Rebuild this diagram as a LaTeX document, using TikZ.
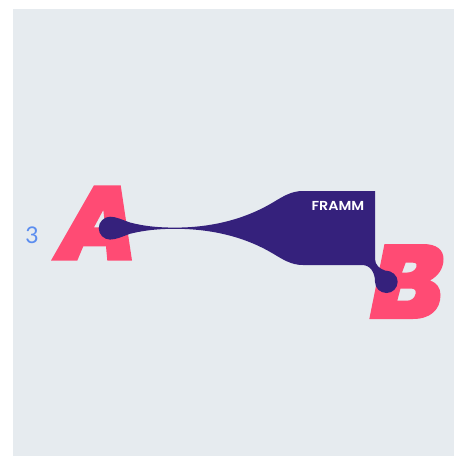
\documentclass[tikz,border=0pt]{standalone}
\usepackage{fontspec}
\setmainfont{Poppins}
\newfontfamily\thinfont{Lato}
\newfontfamily\wideb[FakeStretch=1.1]{Poppins SemiBold}
\definecolor{bgc}{HTML}{E6EBEF}
\definecolor{pinkc}{HTML}{FF4B74}
\definecolor{purp}{HTML}{35217C}
\definecolor{numc}{HTML}{5B8DEF}
\begin{document}
\begin{tikzpicture}[x=1pt,y=-1pt]
\useasboundingbox (0,0) rectangle (454,456);
\fill[bgc] (13,9) rectangle (454,456);
\fill[pinkc,even odd rule] (51,260.5) -- (94,185.3) -- (120.7,185.3) -- (132,260.5) -- (107.3,260.5) -- (106,246.3) -- (83.3,246.3) -- (77.3,260.5) -- cycle
 (103.3,210) -- (94,227.3) -- (105.3,227.3) -- cycle;
\fill[pinkc,even odd rule] (369.3,319) -- (384.5,244) -- (423,244) .. controls (437,244) and (443.5,250) .. (443.5,259) .. controls (443.5,269) and (438,276) .. (430,280.5) .. controls (437,283) and (440.5,288) .. (440.5,295) .. controls (440.5,310) and (430,319) .. (413,319) -- cycle
 (405.7,262.7) -- (413,262.7) .. controls (416.5,262.7) and (417.5,264.5) .. (416.5,267) .. controls (415,270.5) and (411.5,272.5) .. (407.5,272.5) -- (402,272.5) -- cycle
 (400.5,288.5) -- (411,288.5) .. controls (415,288.5) and (416.5,291) .. (415.5,294) .. controls (414.5,298.5) and (411,300.7) .. (407,300.7) -- (397.3,300.7) -- cycle;
\fill[purp] (110,216.7) .. controls (116,216.7) and (122,219.7) .. (130,222.5) .. controls (145,226.5) and (160,227.6) .. (175,227.6) .. controls (218,227.6) and (250,216) .. (272,203) .. controls (283,196.5) and (291,191) .. (303,191) -- (375,191) -- (375,259) .. controls (375,265) and (380,269) .. (385,270.5) .. controls (392,270.5) and (397.7,275.5) .. (397.7,281.7) .. controls (397.7,288) and (392.7,293) .. (386.5,293) .. controls (380,293) and (375,288) .. (375,281.7) .. controls (375,272) and (370,265) .. (362,265) -- (303,265) .. controls (291,265) and (283,259.5) .. (272,253) .. controls (250,240) and (218,228.8) .. (175,228.8) .. controls (160,228.8) and (145,230) .. (130,233.8) .. controls (122,236.7) and (116,239.6) .. (110,239.6) .. controls (104,239.6) and (98.7,234.5) .. (98.7,228.2) .. controls (98.7,222) and (104,216.7) .. (110,216.7) -- cycle;
\node[text=white,font=\wideb\fontsize{13}{14}\selectfont,inner sep=0pt] (framm) at (338,206) {FRAMM};
\node[text=numc,font=\thinfont\fontsize{23}{26}\selectfont,inner sep=0pt] (num) at (32,235.5) {3};
\end{tikzpicture}
\end{document}
